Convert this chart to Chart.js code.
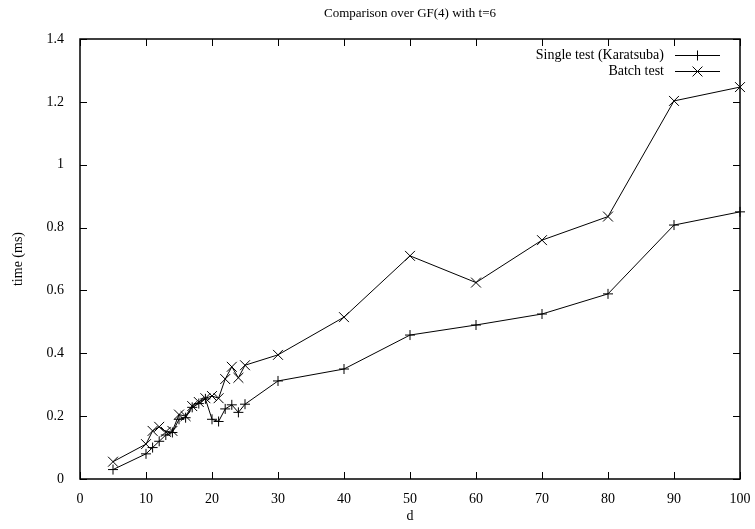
<!DOCTYPE html>
<html>
<head>
<meta charset="utf-8">
<script src="https://cdn.jsdelivr.net/npm/chart.js@4.4.1/dist/chart.umd.min.js"></script>
<style>
    html, body { margin: 0; padding: 0; background: #fff; }
    #wrap { width: 755px; height: 529px; }
</style>
</head>
<body>
<div id="wrap"><canvas id="chart" width="755" height="529"></canvas></div>
<script>
const dValues = [5, 10, 11, 12, 13, 14, 15, 16, 17, 18, 19, 20, 21, 22, 23, 24, 25, 30, 40, 50, 60, 70, 80, 90, 100];
const singleTest = [0.03, 0.08, 0.10, 0.12, 0.14, 0.148, 0.19, 0.195, 0.228, 0.24, 0.255, 0.19, 0.183, 0.223, 0.236, 0.212, 0.238, 0.312, 0.35, 0.458, 0.49, 0.525, 0.589, 0.808, 0.85];
const batchTest = [0.055, 0.111, 0.153, 0.166, 0.15, 0.153, 0.205, 0.2, 0.232, 0.245, 0.257, 0.264, 0.257, 0.318, 0.357, 0.322, 0.362, 0.395, 0.515, 0.71, 0.625, 0.76, 0.835, 1.203, 1.247];
const xTicks = [0, 10, 20, 30, 40, 50, 60, 70, 80, 90, 100];
const yTicks = [0, 0.2, 0.4, 0.6, 0.8, 1, 1.2, 1.4];

const FONT = 'Liberation Serif';

// gnuplot style: inward ticks on all four sides, title and legend drawn by hand
const gnuplotFrame = {
    id: 'gnuplotFrame',
    afterDraw: (chart) => {
        const ctx = chart.ctx;
        const a = chart.chartArea;
        const xs = chart.scales.x;
        const ys = chart.scales.y;
        ctx.save();
        ctx.strokeStyle = '#000';
        ctx.lineWidth = 1;
        ctx.beginPath();
        xTicks.forEach(v => {
            const px = Math.round(xs.getPixelForValue(v)) + 0.5;
            ctx.moveTo(px, a.bottom); ctx.lineTo(px, a.bottom - 7);
            ctx.moveTo(px, a.top); ctx.lineTo(px, a.top + 7);
        });
        yTicks.forEach(v => {
            const py = Math.round(ys.getPixelForValue(v)) + 0.5;
            ctx.moveTo(a.left, py); ctx.lineTo(a.left + 7, py);
            ctx.moveTo(a.right, py); ctx.lineTo(a.right - 7, py);
        });
        ctx.stroke();
        ctx.lineWidth = 1.5;
        ctx.strokeRect(a.left, a.top, a.right - a.left, a.bottom - a.top);

        // title
        ctx.fillStyle = '#000';
        ctx.font = `13px "${FONT}"`;
        ctx.textAlign = 'center';
        ctx.textBaseline = 'middle';
        ctx.fillText('Comparison over GF(4) with t=6', (a.left + a.right) / 2, 14);

        // legend
        const rows = [
            { text: 'Single test (Karatsuba)', style: 'cross', radius: 5, y: 55 },
            { text: 'Batch test', style: 'crossRot', radius: 7, y: 71 }
        ];
        ctx.font = `14px "${FONT}"`;
        ctx.textAlign = 'right';
        rows.forEach(r => {
            ctx.fillText(r.text, 664, r.y);
            ctx.lineWidth = 1;
            ctx.beginPath();
            ctx.moveTo(675, r.y + 0.5);
            ctx.lineTo(720, r.y + 0.5);
            ctx.stroke();
            Chart.helpers.drawPoint(ctx, { pointStyle: r.style, radius: r.radius, borderWidth: 1 }, 697.5, r.y + 0.5);
        });
        ctx.restore();
    }
};

Chart.register(gnuplotFrame);

new Chart(document.getElementById('chart').getContext('2d'), {
    type: 'line',
    data: {
        datasets: [{
            label: 'Single test (Karatsuba)',
            data: dValues.map((d, i) => ({ x: d, y: singleTest[i] })),
            borderColor: '#000',
            backgroundColor: '#000',
            borderWidth: 1,
            pointStyle: 'cross',
            pointRadius: 5,
            pointBorderWidth: 1,
            tension: 0,
            clip: false
        }, {
            label: 'Batch test',
            data: dValues.map((d, i) => ({ x: d, y: batchTest[i] })),
            borderColor: '#000',
            backgroundColor: '#000',
            borderWidth: 1,
            pointStyle: 'crossRot',
            pointRadius: 7,
            pointBorderWidth: 1,
            tension: 0,
            clip: false
        }]
    },
    options: {
        responsive: false,
        animation: false,
        layout: { padding: { top: 39, right: 15, left: 0, bottom: 0 } },
        plugins: {
            legend: { display: false },
            tooltip: { enabled: false }
        },
        scales: {
            x: {
                type: 'linear',
                min: 0,
                max: 100,
                afterFit: (scale) => { scale.height = 50; },
                afterBuildTicks: (scale) => { scale.ticks = xTicks.map(v => ({ value: v })); },
                grid: { display: false },
                border: { display: false },
                ticks: { color: '#000', font: { family: FONT, size: 14 }, padding: 4, maxRotation: 0 },
                title: { display: true, text: 'd', color: '#000', font: { family: FONT, size: 14 }, padding: { top: 0, bottom: 4 } }
            },
            y: {
                min: 0,
                max: 1.4,
                afterFit: (scale) => { scale.width = 80; },
                afterBuildTicks: (scale) => { scale.ticks = yTicks.map(v => ({ value: v })); },
                grid: { display: false },
                border: { display: false },
                ticks: { color: '#000', font: { family: FONT, size: 14 }, padding: 8, callback: (v) => String(v) },
                title: { display: true, text: 'time (ms)', color: '#000', font: { family: FONT, size: 14 }, padding: { top: 10, bottom: 0 } }
            }
        }
    }
});
</script>
</body>
</html>
